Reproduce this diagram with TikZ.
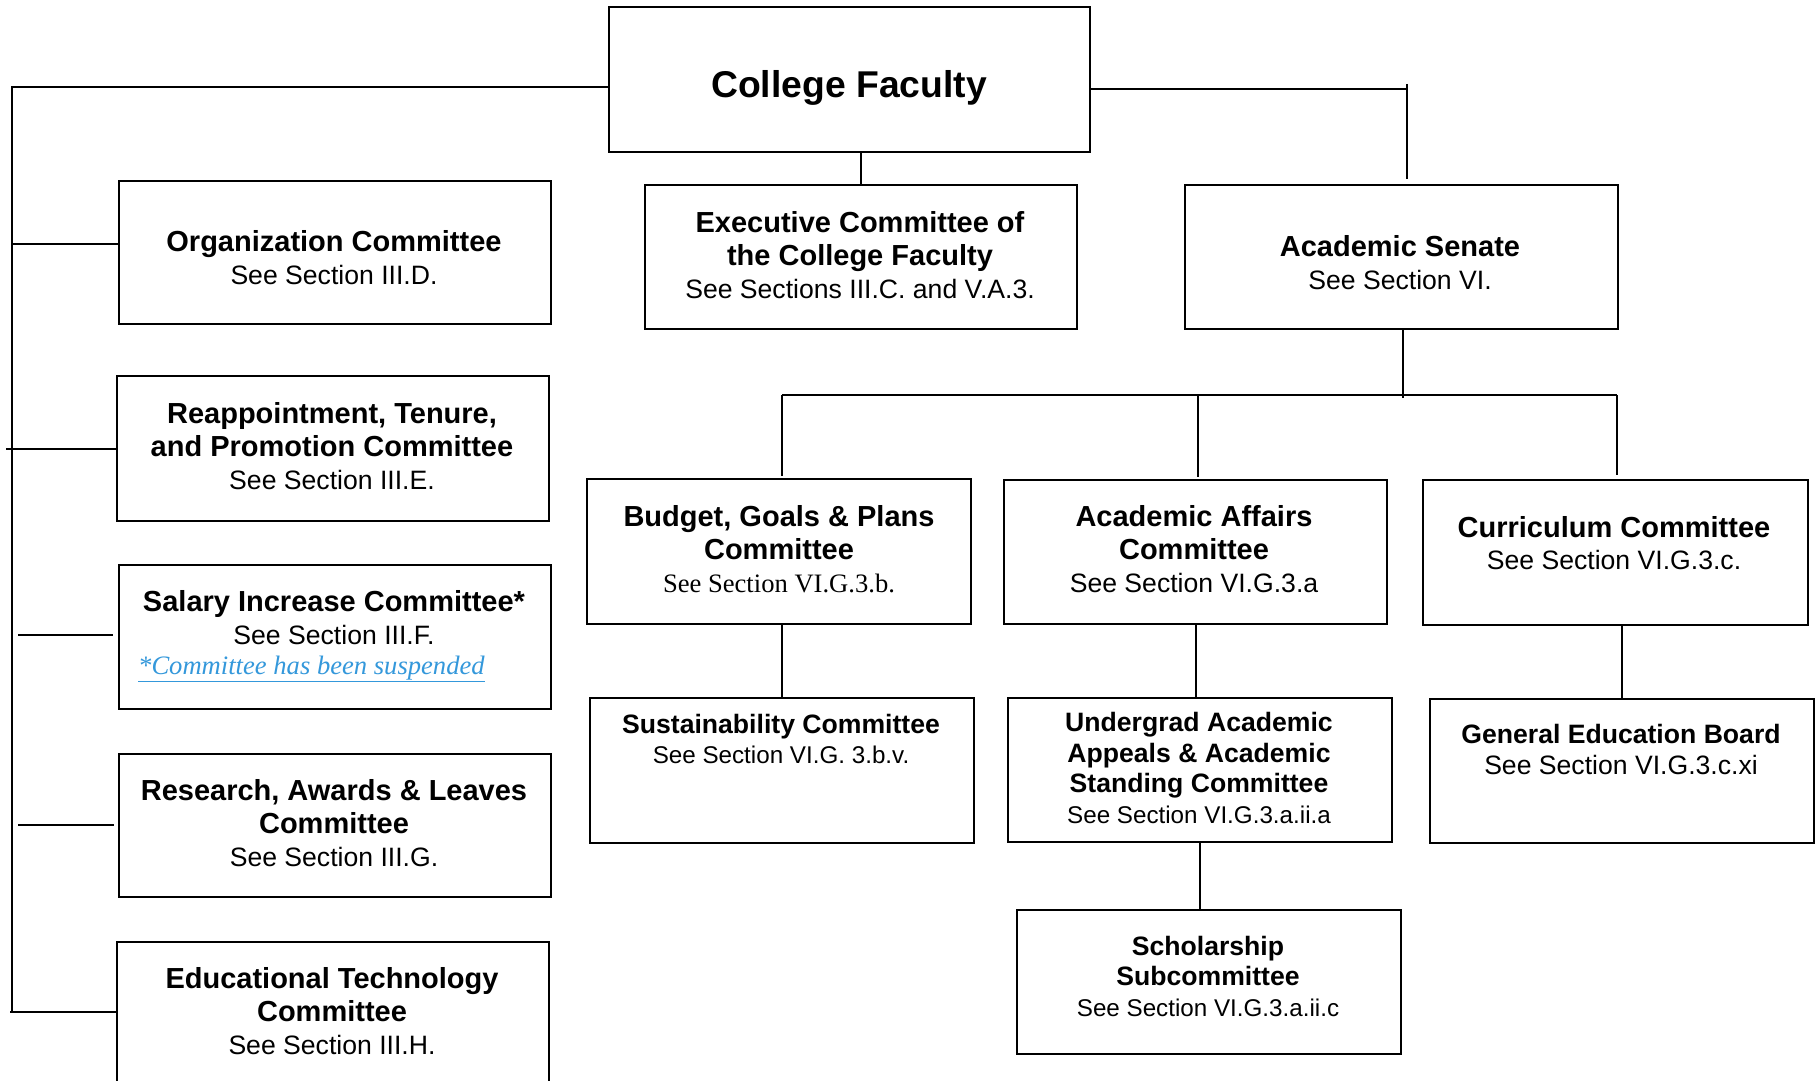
\documentclass[tikz,border=0pt]{standalone}
\usepackage{fontspec}
\setmainfont{Liberation Sans}
\newfontfamily\timesfam{Liberation Serif}
\definecolor{noteblue}{RGB}{52,152,219}
\newcommand\fTitle{\fontsize{37.3}{42}\selectfont\bfseries}
\newcommand\fBoldL{\fontsize{29}{33}\selectfont\bfseries}
\newcommand\fRegL{\fontsize{26.6}{33}\selectfont\mdseries}
\newcommand\fBoldS{\fontsize{26.6}{30.5}\selectfont\bfseries}
\newcommand\fRegS{\fontsize{24.2}{30.5}\selectfont\mdseries}
\newcommand\fBoldM{\fontsize{26.6}{31}\selectfont\bfseries}
\newcommand\fRegM{\fontsize{26.6}{31}\selectfont\mdseries}
\newcommand\fTimesL{\timesfam\fontsize{26.6}{33}\selectfont\mdseries}
\tikzset{
  boxst/.style={draw=black, line width=2.2pt, inner sep=0pt, anchor=north west, fill=white},
  conn/.style={draw=black, line width=1.8pt},
  txt/.style={align=center, inner sep=0pt, text=black}
}
\begin{document}
\begin{tikzpicture}[x=1pt,y=-1pt]
\useasboundingbox (0,0) rectangle (1816,1081);
\clip (0,0) rectangle (1816,1081);
\fill[white] (0,0) rectangle (1816,1081);

% boxes
\node[boxst, minimum width=481pt, minimum height=145pt] (college) at (608,6) {};
\node[boxst, minimum width=432pt, minimum height=143pt] (org) at (118,180) {};
\node[boxst, minimum width=432pt, minimum height=144pt] (exec) at (644,184) {};
\node[boxst, minimum width=433pt, minimum height=144pt] (senate) at (1184,184) {};
\node[boxst, minimum width=432pt, minimum height=145pt] (rtp) at (116,375) {};
\node[boxst, minimum width=432pt, minimum height=144pt] (sal) at (118,564) {};
\node[boxst, minimum width=432pt, minimum height=143pt] (res) at (118,753) {};
\node[boxst, minimum width=432pt, minimum height=150pt] (edt) at (116,941) {};
\node[boxst, minimum width=384pt, minimum height=145pt] (budget) at (586,478) {};
\node[boxst, minimum width=383pt, minimum height=144pt] (aa) at (1003,479) {};
\node[boxst, minimum width=385pt, minimum height=145pt] (curr) at (1422,479) {};
\node[boxst, minimum width=384pt, minimum height=145pt] (sust) at (589,697) {};
\node[boxst, minimum width=384pt, minimum height=144pt] (ug) at (1007,697) {};
\node[boxst, minimum width=384pt, minimum height=144pt] (gened) at (1429,698) {};
\node[boxst, minimum width=384pt, minimum height=144pt] (schol) at (1016,909) {};

% texts
\node[txt, font=\fTitle] (collegeT) at (849,88) {College Faculty};
\node[txt, font=\fBoldL] (orgT) at (334,258) {Organization Committee\\ \fRegL See Section III.D.};
\node[txt, font=\fBoldL] (execT) at (860,255) {Executive Committee of\\ the College Faculty\\ \fRegL See Sections III.C. and V.A.3.};
\node[txt, font=\fBoldL] (senateT) at (1400,263) {Academic Senate\\ \fRegL See Section VI.};
\node[txt, font=\fBoldL] (rtpT) at (332,446) {Reappointment, Tenure,\\ and Promotion Committee\\ \fRegL See Section III.E.};
\node[txt, font=\fBoldL] (salT) at (334,618) {Salary Increase Committee*\\ \fRegL See Section III.F.};
\node[txt, anchor=west, text=noteblue, font=\timesfam\itshape\fontsize{26.6}{33}\selectfont] (salNote) at (138,669) {\underline{*Committee has been suspended}};
\node[txt, font=\fBoldL] (resT) at (334,823) {Research, Awards \& Leaves\\ Committee\\ \fRegL See Section III.G.};
\node[txt, font=\fBoldL] (edtT) at (332,1011) {Educational Technology\\ Committee\\ \fRegL See Section III.H.};
\node[txt, font=\fBoldL] (budgetT) at (779,549) {Budget, Goals \& Plans\\ Committee\\ \fTimesL See Section VI.G.3.b.};
\node[txt, font=\fBoldL] (aaT) at (1194,549) {Academic Affairs\\ Committee\\ \fRegL See Section VI.G.3.a};
\node[txt, font=\fontsize{29}{32}\selectfont\bfseries] (currT) at (1614,543) {Curriculum Committee\\ \fontsize{26.6}{32}\selectfont\mdseries See Section VI.G.3.c.};
\node[txt, font=\fBoldS] (sustT) at (781,739) {Sustainability Committee\\ \fRegS See Section VI.G. 3.b.v.};
\node[txt, font=\fBoldS] (ugT) at (1199,768) {Undergrad Academic\\ Appeals \& Academic\\ Standing Committee\\ \fRegS See Section VI.G.3.a.ii.a};
\node[txt, font=\fBoldM] (genedT) at (1621,749) {General Education Board\\ \fRegM See Section VI.G.3.c.xi};
\node[txt, font=\fBoldS] (scholT) at (1208,976) {Scholarship\\ Subcommittee\\ \fRegS See Section VI.G.3.a.ii.c};

% left trunk
\coordinate (tl) at (12,87);
\coordinate (tb) at (12,1012);
\draw[conn] (tl -| college.west) -- (tl) -- (tb);
\coordinate (b1) at (12,244);
\draw[conn] (b1) -- (org.west |- b1);
\coordinate (b2) at (6,449);
\draw[conn] (b2) -- (rtp.west |- b2);
\coordinate (b3) at (18,635);
\draw[conn, shorten >=5pt] (b3) -- (sal.west |- b3);
\coordinate (b4) at (18,825);
\draw[conn, shorten >=4pt] (b4) -- (res.west |- b4);
\coordinate (b5) at (10,1012);
\draw[conn] (b5) -- (edt.west |- b5);

% exec
\draw[conn] (college.south -| exec.north) -- (exec.north);

% right branch to senate
\coordinate (rj) at (1407,89);
\coordinate (rjt) at (1407,84);
\draw[conn] (rj -| college.east) -- (rj);
\draw[conn, shorten >=5pt] (rjt) -- (senate.north -| rjt);

% senate bus
\coordinate (sj) at (1403,398);
\draw[conn] (senate.south -| sj) -- (sj);
\coordinate (busL) at (782,395);
\coordinate (busM) at (1198,395);
\coordinate (busR) at (1617,395);
\draw[conn] (busL) -- (busR);
\draw[conn, shorten >=2pt] (busL) -- (budget.north -| busL);
\draw[conn, shorten >=2pt] (busM) -- (aa.north -| busM);
\draw[conn, shorten >=4pt] (busR) -- (curr.north -| busR);

% lower links
\draw[conn] (budget.south -| sust.north) -- (sust.north);
\draw[conn] (aa.south) -- (aa.south |- ug.north);
\draw[conn] (curr.south -| gened.north) -- (gened.north);
\draw[conn] (ug.south) -- (ug.south |- schol.north);
\end{tikzpicture}
\end{document}
